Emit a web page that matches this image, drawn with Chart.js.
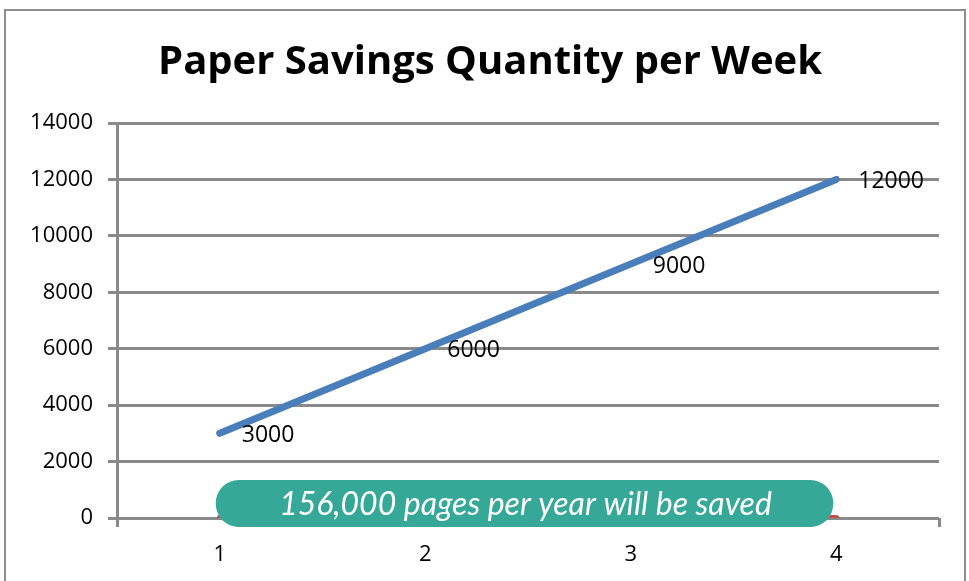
<!DOCTYPE html>
<html>
<head>
<meta charset="utf-8">
<script src="https://cdn.jsdelivr.net/npm/chart.js@4"></script>
<style>
  html, body { margin: 0; padding: 0; background: #fff; overflow: hidden; }
  #wrap { position: relative; width: 969px; height: 581px; }
  #frame { position: absolute; left: 4px; top: 9px; width: 958px; height: 640px; border: 2px solid #8e8e8e; pointer-events: none; }
</style>
</head>
<body>
<div id="wrap">
  <canvas id="chart" width="969" height="581"></canvas>
  <div id="frame"></div>
</div>
<script>
const weeks = ['1', '2', '3', '4'];
const savedPages = [3000, 6000, 9000, 12000];
const baseline = [0, 0, 0, 0];
const yTicks = [0, 2000, 4000, 6000, 8000, 10000, 12000, 14000];
const titleText = 'Paper Savings Quantity per Week';
const bannerText = '156,000 pages per year will be saved';

// value labels to the right of each blue point
const pointLabels = {
    id: 'pointLabels',
    afterDatasetsDraw(chart) {
        const ctx = chart.ctx;
        const meta = chart.getDatasetMeta(0);
        ctx.save();
        ctx.font = '23px "Open Sans"';
        ctx.fillStyle = '#000';
        ctx.textBaseline = 'middle';
        meta.data.forEach((pt, i) => {
            ctx.fillText(String(savedPages[i]), pt.x + 22, pt.y + 2);
        });
        ctx.restore();
    }
};

// title sits a little right of the canvas centre, like the original
const chartTitle = {
    id: 'chartTitle',
    afterDraw(chart) {
        const ctx = chart.ctx;
        ctx.save();
        ctx.font = 'bold 40px "Open Sans"';
        ctx.fillStyle = '#000';
        ctx.textAlign = 'center';
        ctx.textBaseline = 'middle';
        ctx.fillText(titleText, 490, 63);
        ctx.restore();
    }
};

// green rounded callout over the zero line
const banner = {
    id: 'banner',
    afterDraw(chart) {
        const ctx = chart.ctx;
        const x = chart.scales.x;
        const y = chart.scales.y;
        const left = x.getPixelForValue(0) - 4;
        const right = x.getPixelForValue(3) - 3;
        const bottom = y.getPixelForValue(0) + 9;
        const top = bottom - 47;
        const r = 23;
        ctx.save();
        ctx.fillStyle = '#36a897';
        ctx.beginPath();
        ctx.roundRect(left, top, right - left, bottom - top, r);
        ctx.fill();
        ctx.fillStyle = '#fff';
        ctx.font = 'italic 32px Lato';
        ctx.textAlign = 'center';
        ctx.textBaseline = 'middle';
        ctx.fillText(bannerText, (left + right) / 2 + 1, (top + bottom) / 2 + 1);
        ctx.restore();
    }
};

const chart = new Chart(document.getElementById('chart'), {
    type: 'line',
    data: {
        labels: weeks,
        datasets: [{
            label: 'Paper saved',
            data: savedPages,
            borderColor: '#4a7ebb',
            borderWidth: 7,
            borderCapStyle: 'round',
            pointRadius: 0,
            tension: 0
        }, {
            label: 'Baseline',
            data: baseline,
            borderColor: '#c0504d',
            borderWidth: 6,
            borderCapStyle: 'round',
            pointRadius: 0
        }]
    },
    options: {
        responsive: false,
        animation: false,
        layout: { padding: { left: 0, right: 30, top: 123, bottom: 0 } },
        plugins: {
            legend: { display: false },
            tooltip: { enabled: false },
            title: { display: false }
        },
        scales: {
            x: {
                offset: true,
                afterFit: (s) => { s.height = 63; },
                grid: {
                    offset: true,
                    drawOnChartArea: false,
                    drawTicks: true,
                    tickLength: 9,
                    tickWidth: 3,
                    tickColor: '#8a8a8a'
                },
                border: { display: false },
                ticks: {
                    color: '#000',
                    padding: 15,
                    font: { family: '"Open Sans"', size: 22 }
                }
            },
            y: {
                min: 0,
                max: 14000,
                afterFit: (s) => { s.width = 117; },
                afterBuildTicks: (s) => { s.ticks = yTicks.map(v => ({ value: v })); },
                grid: {
                    color: '#8a8a8a',
                    lineWidth: 3,
                    tickLength: 9
                },
                border: { color: '#8a8a8a', width: 3 },
                ticks: {
                    color: '#000',
                    padding: 15,
                    callback: (v) => String(v),
                    font: { family: '"Open Sans"', size: 22 }
                }
            }
        }
    },
    plugins: [pointLabels, chartTitle, banner]
});
</script>
</body>
</html>
